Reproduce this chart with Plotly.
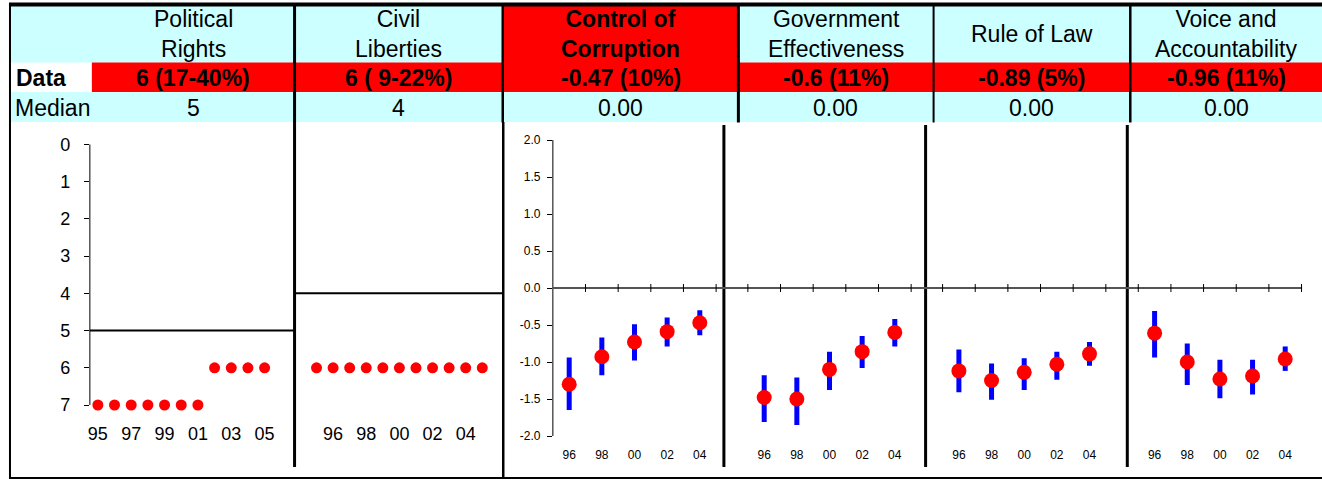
import plotly.graph_objects as go

W, H = 1322, 480

# ---------------- data ----------------
pr_years = [1995, 1996, 1997, 1998, 1999, 2000, 2001, 2002, 2003, 2004, 2005]
pr_values = [7, 7, 7, 7, 7, 7, 7, 6, 6, 6, 6]
pr_tickvals = [1995, 1997, 1999, 2001, 2003, 2005]
pr_ticktext = ["95", "97", "99", "01", "03", "05"]

cl_years = [1995, 1996, 1997, 1998, 1999, 2000, 2001, 2002, 2003, 2004, 2005]
cl_values = [6, 6, 6, 6, 6, 6, 6, 6, 6, 6, 6]
cl_tickvals = [1996, 1998, 2000, 2002, 2004]
cl_ticktext = ["96", "98", "00", "02", "04"]

fh_ticks = [0, 1, 2, 3, 4, 5, 6, 7]

gov_years = ["96", "98", "00", "02", "04"]
cc_est = [-1.30, -0.93, -0.73, -0.59, -0.47]
cc_hi = [-0.94, -0.67, -0.49, -0.40, -0.30]
cc_lo = [-1.65, -1.18, -0.98, -0.79, -0.64]
ge_est = [-1.48, -1.50, -1.10, -0.86, -0.60]
ge_hi = [-1.18, -1.21, -0.86, -0.65, -0.42]
ge_lo = [-1.81, -1.85, -1.38, -1.08, -0.79]
rl_est = [-1.12, -1.25, -1.14, -1.03, -0.89]
rl_hi = [-0.83, -1.02, -0.95, -0.86, -0.73]
rl_lo = [-1.41, -1.51, -1.38, -1.24, -1.05]
va_est = [-0.61, -1.00, -1.23, -1.19, -0.96]
va_hi = [-0.31, -0.75, -0.97, -0.97, -0.79]
va_lo = [-0.94, -1.31, -1.49, -1.44, -1.12]
gov_ticks = [-2.0, -1.5, -1.0, -0.5, 0.0, 0.5, 1.0, 1.5, 2.0]

headers = ["Political<br>Rights", "Civil<br>Liberties", "Control of<br>Corruption",
           "Government<br>Effectiveness", "Rule of Law", "Voice and<br>Accountability"]
data_row = ["6 (17-40%)", "6 ( 9-22%)", "-0.47 (10%)", "-0.6 (11%)", "-0.89 (5%)", "-0.96 (11%)"]
median_row = ["5", "4", "0.00", "0.00", "0.00", "0.00"]
fh_medians = [5, 4]
gov_medians = [0.0, 0.0, 0.0, 0.0]

# ---------------- helpers ----------------
def X(px):
    return px / W

def Y(py):
    return 1 - py / H

SANS = "Liberation Sans, Arial, sans-serif"
NARROW = "Liberation Sans Narrow, Arial Narrow, Liberation Sans, sans-serif"
CYAN = "#CCFFFF"
RED = "#FF0000"
BLUE = "#0000FF"

fig = go.Figure()

# ---------------- traces ----------------
fig.add_trace(go.Scatter(x=pr_years, y=pr_values, mode="markers", xaxis="x", yaxis="y",
                         marker=dict(color=RED, size=11), cliponaxis=False, showlegend=False))
fig.add_trace(go.Scatter(x=cl_years, y=cl_values, mode="markers", xaxis="x2", yaxis="y2",
                         marker=dict(color=RED, size=11), cliponaxis=False, showlegend=False))

gov = [(cc_est, cc_hi, cc_lo), (ge_est, ge_hi, ge_lo), (rl_est, rl_hi, rl_lo), (va_est, va_hi, va_lo)]
for i, (est, hi, lo) in enumerate(gov):
    n = i + 3
    fig.add_trace(go.Scatter(
        x=gov_years, y=est, mode="markers", xaxis=f"x{n}", yaxis=f"y{n}",
        marker=dict(color=RED, size=15),
        error_y=dict(type="data", symmetric=False,
                     array=[h - e for h, e in zip(hi, est)],
                     arrayminus=[e - l for e, l in zip(est, lo)],
                     color=BLUE, thickness=5, width=0),
        cliponaxis=False, showlegend=False))

# ---------------- axes ----------------
ydom = [Y(467), Y(125)]
# Freedom House scale: 0 at 144.5px, 7 at 405px
fh_ppu = (405 - 144.5) / 7
fh_range = [(467 - 144.5) / fh_ppu, -(144.5 - 125) / fh_ppu]
# governance scale: 0 at 288px, 74px per unit
g_ppu = 74
g_range = [-(467 - 288) / g_ppu, (288 - 125) / g_ppu]

big_tick = dict(family=SANS, size=18, color="black")
small_tick = dict(family=SANS, size=12, color="black")

common_x = dict(showgrid=False, zeroline=False, showline=False, ticks="", anchor="free")
common_y = dict(showgrid=False, zeroline=False, showline=False, domain=ydom)

# panel 1
ppy1 = 16.7
fig.update_layout(
    xaxis=dict(domain=[X(88), X(293)], range=[1995 - 8 / ppy1, 1995 + 205 / ppy1 - 8 / ppy1],
               tickvals=pr_tickvals, ticktext=pr_ticktext, tickfont=big_tick,
               position=Y(421), **common_x),
    yaxis=dict(range=fh_range, tickvals=fh_ticks, ticks="outside", ticklen=5, tickwidth=1,
               tickcolor="black", tickfont=big_tick, ticklabelstandoff=10, anchor="x", **common_y),
)
# panel 2
ppy2 = 16.6
fig.update_layout(
    xaxis2=dict(domain=[X(293), X(501)], range=[1995 - 22 / ppy2, 1995 + 186 / ppy2],
                tickvals=cl_tickvals, ticktext=cl_ticktext, tickfont=big_tick,
                position=Y(421), **common_x),
    yaxis2=dict(range=fh_range, showticklabels=False, anchor="x2", **common_y),
)
# governance panels
cw = 32.7
gov_dom = [(551.7, 723, 551.7), (723, 925, 747), (925, 1127, 942), (1127, 1322, 1138)]
for i, (a, b, first) in enumerate(gov_dom):
    n = i + 3
    lo_v = -0.5 - (first - a) / cw
    hi_v = -0.5 + (b - first) / cw
    fig.layout[f"xaxis{n}"] = dict(domain=[X(a), X(b)], range=[lo_v, hi_v], type="category",
                                   tickfont=small_tick, position=Y(446), **common_x)
    ydict = dict(range=g_range, anchor=f"x{n}", **common_y)
    if n == 3:
        ydict.update(tickvals=gov_ticks, ticktext=[f"{v:.1f}" for v in gov_ticks],
                     ticks="outside", ticklen=5, tickwidth=1, tickcolor="black",
                     tickfont=small_tick, ticklabelstandoff=4)
    else:
        ydict.update(showticklabels=False)
    fig.layout[f"yaxis{n}"] = ydict

# ---------------- shapes ----------------
shapes = []

def rect(x0, y0, x1, y1, color):
    shapes.append(dict(type="rect", xref="paper", yref="paper", x0=X(x0), x1=X(x1),
                       y0=Y(y1), y1=Y(y0), fillcolor=color, line=dict(width=0), layer="below"))

def pline(x0, y0, x1, y1, w=2, color="black"):
    shapes.append(dict(type="line", xref="paper", yref="paper", x0=X(x0), x1=X(x1),
                       y0=Y(y0), y1=Y(y1), line=dict(color=color, width=w)))

# table backgrounds
rect(9, 5, 1322, 62.5, CYAN)
rect(502, 5, 737.5, 92, RED)
rect(90, 62.5, 1322, 92, RED)
rect(9, 92, 1322, 122, CYAN)

# table grid lines
for xx, w in [(293, 3), (501.5, 2.5), (737.5, 3), (933, 2), (1130, 2.5)]:
    pline(xx, 5, xx, 122.5, w)
pline(7, 4.5, 1322, 4.5, 4)
pline(8, 3, 8, 479, 2)
pline(7, 478, 1322, 478, 2)

# panel separator lines
pline(293, 122, 293, 467, 3)
pline(502, 122, 502, 478, 2.5)
for xx in [723, 925, 1127]:
    pline(xx, 125, xx, 467, 3)

# Freedom House y-axis line (0..7) and median lines
shapes.append(dict(type="line", xref="x domain", yref="y", x0=0, x1=0, y0=fh_ticks[0], y1=fh_ticks[-1],
                   line=dict(color="black", width=1)))
for k, m in enumerate(fh_medians):
    ax = "x" if k == 0 else "x2"
    ay = "y" if k == 0 else "y2"
    shapes.append(dict(type="line", xref=f"{ax} domain", yref=ay, x0=0, x1=1, y0=m, y1=m,
                       line=dict(color="black", width=2)))

# governance y-axis line (-2..2)
shapes.append(dict(type="line", xref="x3 domain", yref="y3", x0=0, x1=0, y0=gov_ticks[0], y1=gov_ticks[-1],
                   line=dict(color="black", width=1)))
# governance median / zero lines, continuous across panels
shapes.append(dict(type="line", xref="paper", yref="y3", x0=X(551.7), x1=X(1302),
                   y0=gov_medians[0], y1=gov_medians[0], line=dict(color="#555555", width=2)))
# category boundary ticks crossing the zero line
for i in range(4):
    n = i + 3
    start = 0 if n == 3 else -1
    for b in range(start, 5):
        shapes.append(dict(type="line", xref=f"x{n}", yref=f"y{n}", x0=b + 0.5, x1=b + 0.5,
                           ysizemode="pixel", yanchor=gov_medians[i], y0=-4, y1=4,
                           line=dict(color="black", width=1)))

# ---------------- annotations ----------------
ann = []
col_edges = [90, 293, 501.5, 737.5, 933, 1130, 1322]
for k in range(6):
    cx = (col_edges[k] + col_edges[k + 1]) / 2
    fam = SANS if k < 2 else NARROW
    f = dict(family=fam, size=23, color="black")
    htxt = f"<b>{headers[k]}</b>" if k == 2 else headers[k]
    ann.append(dict(x=X(cx), y=Y(34), text=htxt, font=f, showarrow=False,
                    xref="paper", yref="paper", xanchor="center", yanchor="middle"))
    ann.append(dict(x=X(cx), y=Y(77.5), text=f"<b>{data_row[k]}</b>", font=f, showarrow=False,
                    xref="paper", yref="paper", xanchor="center", yanchor="middle"))
    ann.append(dict(x=X(cx), y=Y(107.5), text=median_row[k], font=f, showarrow=False,
                    xref="paper", yref="paper", xanchor="center", yanchor="middle"))
ann.append(dict(x=X(12), y=Y(77.5), text="<b>Data</b>", font=dict(family=SANS, size=23, color="black"),
                showarrow=False, xref="paper", yref="paper", xanchor="left", yanchor="middle"))
ann.append(dict(x=X(11), y=Y(107.5), text="Median", font=dict(family=SANS, size=23, color="black"),
                showarrow=False, xref="paper", yref="paper", xanchor="left", yanchor="middle"))

fig.update_layout(width=W, height=H, margin=dict(l=0, r=0, t=0, b=0),
                  paper_bgcolor="white", plot_bgcolor="rgba(0,0,0,0)",
                  shapes=shapes, annotations=ann, showlegend=False)

fig.write_html("out.html", config={"displayModeBar": False},
               post_script="document.body.style.margin='0';document.body.style.overflow='hidden';")
